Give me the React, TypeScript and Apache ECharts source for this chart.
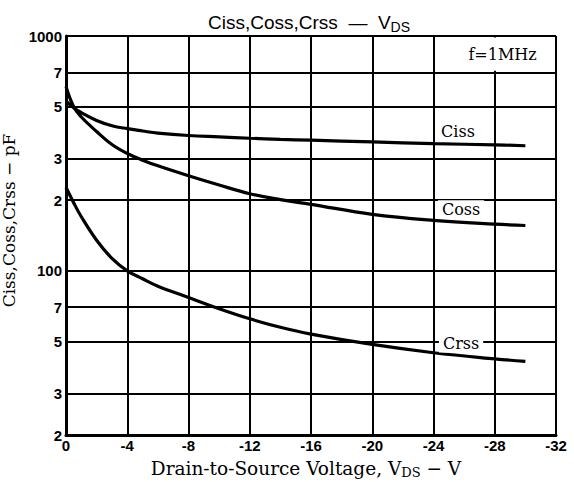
import React, { useEffect, useRef } from "react";
import * as echarts from "echarts";

const vds = [0, -0.5, -1, -2, -3, -4, -5, -6, -8, -10, -12, -14, -16, -20, -24, -28, -30];
const ciss = [530, 495, 472, 437, 415, 403, 394, 386, 377, 372, 367, 363, 360, 354, 348, 344, 341];
const coss = [610, 500, 452, 392, 345, 316, 296, 280, 254, 232, 213, 201, 192, 174, 164, 158, 156];
const crss = [227, 195, 170, 135, 113, 100, 92.5, 86, 77, 69, 62.5, 57.5, 53.8, 48.6, 44.8, 42.2, 41.2];

const curveNames = ["Ciss", "Coss", "Crss"];
const curveLabelX = [-25.6, -25.8, -25.8];
const curveLabelY = [393, 183, 49];

const yTickValues = [20, 30, 50, 70, 100, 200, 300, 500, 700, 1000];
const yTickLabels = ["2", "3", "5", "7", "100", "2", "3", "5", "7", "1000"];

const freqNote = "f=1MHz";
const freqBoxX = [-24.15, -31.85];
const freqBoxY = [985, 712];

const SERIF = "'DejaVu Serif', 'Liberation Serif', serif";
const SANS = "'Liberation Sans', Arial, sans-serif";

function yLabel(v: number): string {
  for (let i = 0; i < yTickValues.length; i++) {
    if (Math.abs(Math.log10(v) - Math.log10(yTickValues[i])) < 0.005) return yTickLabels[i];
  }
  return "";
}

export default function App() {
  const ref = useRef<HTMLDivElement>(null);
  useEffect(() => {
    if (!ref.current) return;
    const chart = echarts.init(ref.current, undefined, { renderer: "svg" });
    const series = [ciss, coss, crss].map((vals, si) => ({
      type: "line",
      name: curveNames[si],
      smooth: 0.4,
      showSymbol: false,
      symbol: "none",
      lineStyle: { color: "#000", width: 3.2 },
      data: vds.map((x, i) => [x, vals[i]]),
      markPoint: {
        symbol: "circle",
        symbolSize: 1,
        itemStyle: { color: "rgba(0,0,0,0)" },
        data: [
          {
            coord: [curveLabelX[si], curveLabelY[si]],
            label: {
              show: true,
              position: "inside",
              formatter: curveNames[si],
              color: "#000",
              fontFamily: SERIF,
              fontSize: 16,
              backgroundColor: "#fff",
              padding: [1, 4, 1, 4],
            },
          },
        ],
      },
      markArea:
        si === 0
          ? {
              silent: true,
              itemStyle: { color: "#fff" },
              label: {
                show: true,
                position: "insideRight",
                distance: 17,
                formatter: freqNote,
                color: "#000",
                fontFamily: SERIF,
                fontSize: 16,
              },
              data: [[{ coord: [freqBoxX[0], freqBoxY[0]] }, { coord: [freqBoxX[1], freqBoxY[1]] }]],
            }
          : undefined,
    }));
    chart.setOption({
      animation: false,
      backgroundColor: "#fff",
      title: {
        text: "Ciss,Coss,Crss  —  V{sub|DS}",
        left: 208,
        top: 6,
        padding: [5, 0, 5, 0],
        textStyle: {
          fontFamily: SANS,
          fontSize: 19,
          fontWeight: "normal",
          color: "#000",
          rich: {
            sub: { fontFamily: SANS, fontSize: 14, color: "#000", padding: [9, 0, 0, 0] },
          },
        },
      },
      grid: { left: 66, right: 18, top: 36, bottom: 47, containLabel: false, outerBoundsMode: "none" },
      xAxis: {
        type: "value",
        min: -32,
        max: 0,
        interval: 4,
        inverse: true,
        name: "Drain-to-Source Voltage, V{sub|DS} − V",
        nameLocation: "middle",
        nameGap: 22,
        nameTextStyle: {
          fontFamily: SERIF,
          fontSize: 18.5,
          color: "#000",
          padding: [0, 10, 0, 0],
          rich: {
            sub: { fontFamily: SERIF, fontSize: 13, color: "#000", padding: [9, 0, 0, 0] },
          },
        },
        axisLine: { show: true, onZero: false, lineStyle: { color: "#000", width: 3 } },
        axisTick: { show: false },
        splitLine: { show: true, lineStyle: { color: "#000", width: 2 } },
        axisLabel: {
          color: "#000",
          fontFamily: SANS,
          fontWeight: "bold",
          fontSize: 15,
          margin: 3,
          formatter: (v: number) => String(v),
        },
      },
      yAxis: {
        type: "log",
        logBase: 10,
        min: 20,
        max: 1000,
        name: "Ciss,Coss,Crss − pF",
        nameLocation: "middle",
        nameGap: 38,
        nameTextStyle: { fontFamily: SERIF, fontSize: 17, color: "#000", padding: [0, 0, 0, 30] },
        axisLine: { show: true, onZero: false, lineStyle: { color: "#000", width: 3 } },
        axisTick: { show: false, customValues: yTickValues },
        minorTick: { show: false },
        splitLine: { show: true, lineStyle: { color: "#000", width: 2 } },
        axisLabel: {
          customValues: yTickValues,
          color: "#000",
          fontFamily: SANS,
          fontWeight: "bold",
          fontSize: 15,
          margin: 4,
          formatter: (v: number) => yLabel(v),
        },
      },
      series,
    });
    return () => chart.dispose();
  }, []);
  return (
    <div
      ref={ref}
      style={{ position: "fixed", left: 0, top: 0, width: 574, height: 482, background: "#fff" }}
    />
  );
}
